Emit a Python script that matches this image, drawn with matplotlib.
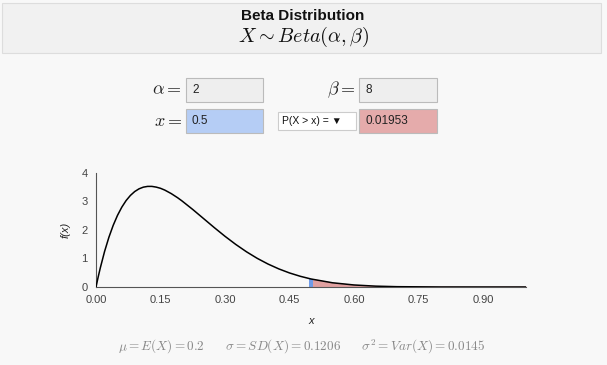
import matplotlib
matplotlib.use("Agg")
import matplotlib.pyplot as plt
from matplotlib.patches import Rectangle

plt.rcParams['font.family'] = ['Liberation Sans', 'DejaVu Sans']
plt.rcParams['mathtext.fontset'] = 'cm'

# values
alpha = 2
beta = 8
x_val = 0.5
p_upper = "0.01953"
stats_text = (r"$\mu = E(X) = 0.2$" + "      " + r"$\sigma = SD(X) = 0.1206$"
              + "      " + r"$\sigma^2 = Var(X) = 0.0145$")

x_pts = [0.0, 0.005, 0.01, 0.02, 0.03, 0.04, 0.05, 0.06, 0.07, 0.08, 0.09, 0.10,
         0.11, 0.12, 0.13, 0.14, 0.15, 0.16, 0.175, 0.19, 0.20, 0.225, 0.25,
         0.275, 0.30, 0.325, 0.35, 0.375, 0.40, 0.425, 0.45, 0.475, 0.50, 0.55,
         0.60, 0.65, 0.70, 0.80, 0.90, 1.0]
f_pts = [0.0, 0.348, 0.67, 1.25, 1.745, 2.164, 2.514, 2.801, 3.033, 3.213, 3.349,
         3.444, 3.503, 3.530, 3.530, 3.505, 3.463, 3.400, 3.277, 3.130, 3.020,
         2.720, 2.403, 2.085, 1.779, 1.494, 1.235, 1.005, 0.806, 0.636, 0.493,
         0.376, 0.281, 0.148, 0.071, 0.030, 0.011, 0.001, 0.0, 0.0]
x_ticks = [0.0, 0.15, 0.30, 0.45, 0.60, 0.75, 0.90]
y_ticks = [0, 1, 2, 3, 4]

W, H = 607, 365
fig = plt.figure(figsize=(W / 100, H / 100), dpi=100)
fig.patch.set_facecolor('#f8f8f8')


def box(x0, y0, x1, y1, fc, ec='#bbbbbb', lw=0.8):
    fig.patches.append(Rectangle((x0 / W, 1 - y1 / H), (x1 - x0) / W, (y1 - y0) / H,
                                 transform=fig.transFigure, facecolor=fc,
                                 edgecolor=ec, linewidth=lw))


def txt(x, y, s, **kw):
    fig.text(x / W, 1 - y / H, s, **kw)


# header
box(2, 3, 601, 53, '#f1f1f1', ec='#dddddd')
txt(303, 16, "Beta Distribution", ha='center', va='center', fontsize=11,
    fontweight='bold', color='#111111')
txt(303, 37, r"$X \sim Beta(\alpha, \beta)$", ha='center', va='center',
    fontsize=14.5, color='#111111')

# inputs
txt(182, 90, r"$\alpha =$", ha='right', va='center', fontsize=13, color='#222222')
box(186, 78, 263, 102, '#eeeeee')
txt(192, 90, str(alpha), va='center', fontsize=8.5, color='#222222')
txt(355, 90, r"$\beta =$", ha='right', va='center', fontsize=13, color='#222222')
box(359, 78, 437, 102, '#eeeeee')
txt(365, 90, str(beta), va='center', fontsize=8.5, color='#222222')

txt(182, 121, r"$x =$", ha='right', va='center', fontsize=13, color='#222222')
box(186, 109, 263, 133, '#b5cdf5')
txt(192, 121, str(x_val), va='center', fontsize=8.5, color='#222222')
box(278, 112, 356, 130, '#ffffff', ec='#cccccc')
txt(282, 121, "P(X > x) = \u25bc", va='center', fontsize=7.5, color='#111111')
box(359, 109, 437, 133, '#e5abab')
txt(365, 121, p_upper, va='center', fontsize=8.5, color='#222222')

# plot
ax = fig.add_axes([96 / W, 1 - 287 / H, 430 / W, 114 / H])
ax.set_facecolor('#f8f8f8')
ax.plot(x_pts, f_pts, color='black', lw=1.1, zorder=3)
tail_x = [xx for xx in x_pts if xx >= x_val]
tail_f = [ff for xx, ff in zip(x_pts, f_pts) if xx >= x_val]
ax.fill_between(tail_x, tail_f, color='#e0a0a0', zorder=2)
ax.bar([x_val], [f_pts[x_pts.index(x_val)]], width=0.01, color='#6f9be8', zorder=2)

ax.set_xlim(0, 1)
ax.set_ylim(0, 4)
ax.set_xticks(x_ticks)
ax.set_xticklabels(["%.2f" % t for t in x_ticks])
ax.set_yticks(y_ticks)
ax.tick_params(length=0, labelsize=8, colors='#444444', pad=6)
for s in ['top', 'right']:
    ax.spines[s].set_visible(False)
ax.spines['left'].set_color('#555555')
ax.spines['bottom'].set_color('#555555')
ax.set_xlabel("x", fontsize=8, style='italic', color='#222222', labelpad=8)
ax.set_ylabel("f(x)", fontsize=8, style='italic', color='#222222', labelpad=8)

# stats line
txt(302, 347, stats_text, ha='center', va='center', fontsize=9.5, color='#888888')

fig.savefig("out.png", dpi=100, facecolor=fig.get_facecolor())
